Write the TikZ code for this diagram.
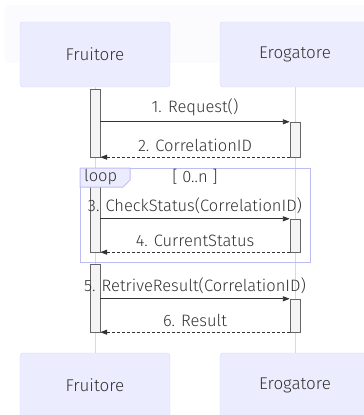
\documentclass[tikz,border=0pt]{standalone}
\usepackage{fontspec}
\setmainfont{Fira Sans}[UprightFont=* Light]
\usetikzlibrary{arrows.meta,positioning}
\definecolor{actorfill}{HTML}{ECECFF}
\definecolor{actorline}{HTML}{D6D6F8}
\definecolor{ink}{HTML}{333333}
\definecolor{actfill}{HTML}{F4F4F4}
\definecolor{actline}{HTML}{666666}
\definecolor{lifeline}{HTML}{D9D9D9}
\definecolor{loopline}{HTML}{BDBDF5}
\definecolor{bgstrip}{HTML}{FBFBFD}
\tikzset{
  actor/.style={draw=actorline, fill=actorfill, rounded corners=3pt, minimum width=150pt,
    minimum height=65pt, inner sep=0pt, text=ink, font=\fontsize{17}{19}\selectfont},
  activation/.style={draw=actline, fill=actfill, minimum width=10pt, inner sep=0pt},
  msg/.style={draw=ink, line width=0.9pt, -{Triangle[length=7pt,width=5pt]}},
  reply/.style={msg, dash pattern=on 2.5pt off 2.5pt},
  msglabel/.style={text=ink, font=\fontsize{16.5}{18}\selectfont, inner sep=0pt},
}
\begin{document}
\begin{tikzpicture}[x=1pt, y=-1pt]
  \useasboundingbox (0,0) rectangle (364,415);
  \fill[bgstrip] (5,5) rectangle (364,63);

  % actors
  \node[actor] (fruitoreTop) at (95,54.5) {Fruitore};
  \node[actor] (erogatoreTop) at (295,54.5) {Erogatore};
  \node[actor] (fruitoreBot) at (95,385.5) {Fruitore};
  \node[actor] (erogatoreBot) at (295,385.5) {Erogatore};

  % lifelines
  \draw[lifeline, line width=1pt] (fruitoreTop) -- (fruitoreBot);
  \draw[lifeline, line width=1pt] (erogatoreTop) -- (erogatoreBot);

  % activations
  \node[activation, minimum height=68pt] (fa1) at (95,123) {};
  \node[activation, minimum height=35pt] (ea1) at (295,139.5) {};
  \node[activation, minimum height=82pt] (fa2) at (95,211) {};
  \node[activation, minimum height=33pt] (ea2) at (295,235.5) {};
  \node[activation, minimum height=68pt] (fa3) at (95,298) {};
  \node[activation, minimum height=33pt] (ea3) at (295,315.5) {};

  % loop frame
  \draw[loopline, line width=1pt] (80,168) rectangle (310,262);
  \draw[loopline, line width=1pt, fill=actorfill] (80,168) -- (130,168) -- (130,180) -- (123,187) -- (80,187) -- cycle;
  \node[msglabel, anchor=west] (loopname) at (84,177) {loop};
  \node[msglabel] (loopcond) at (195,176.5) {[ 0..n ]};

  % messages
  \draw[msg] (fa1.east |- ea1.north) -- (ea1.north west) node[msglabel, midway, above=5pt] (m1) {1. Request()};
  \draw[reply] (ea1.south west) -- (fa1.south east) node[msglabel, midway, above=5pt] (m2) {2. CorrelationID};
  \draw[msg] (fa2.east |- ea2.north) -- (ea2.north west) node[msglabel, midway, above=5pt] (m3) {3. CheckStatus(CorrelationID)};
  \draw[reply] (ea2.south west) -- (fa2.south east) node[msglabel, midway, above=5pt] (m4) {4. CurrentStatus};
  \draw[msg] (fa3.east |- ea3.north) -- (ea3.north west) node[msglabel, midway, above=5pt] (m5) {5. RetriveResult(CorrelationID)};
  \draw[reply] (ea3.south west) -- (fa3.south east) node[msglabel, midway, above=5pt] (m6) {6. Result};
\end{tikzpicture}
\end{document}
